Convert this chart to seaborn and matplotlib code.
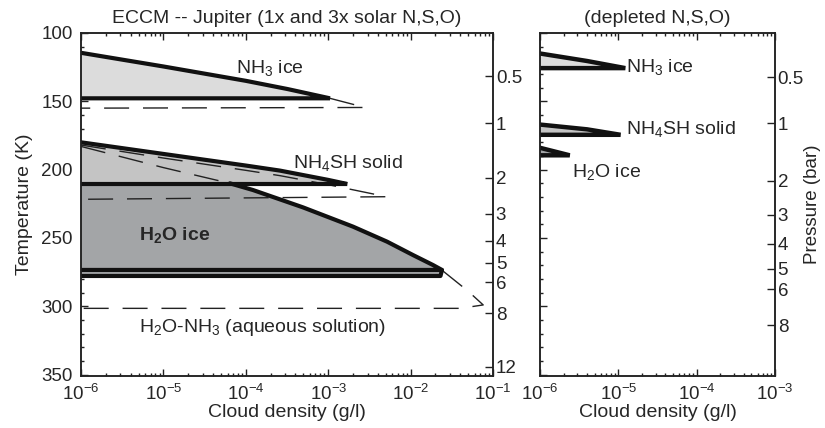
import matplotlib
matplotlib.use("Agg")
import matplotlib.pyplot as plt
from matplotlib.ticker import MultipleLocator, LogLocator, NullLocator, NullFormatter
import seaborn as sns

# ---- values (cloud density in g/l, temperature in K) ----
# ECCM 1x solar (solid outlines, filled)
nh3_rho = [1e-6, 1e-5, 1e-4, 3.2e-4, 1.05e-3]
nh3_T = [114.5, 124.5, 135, 141, 147.8]
nh3_base = 147.8

nh4sh_rho = [1e-6, 1e-5, 1e-4, 2.6e-4, 1e-3, 1.7e-3]
nh4sh_T = [180, 188.5, 197, 200.7, 207.5, 210.5]
nh4sh_base = 210.5

h2o_rho = [1e-6, 1e-5, 6.4e-5, 1.22e-4, 4.94e-4, 2.0e-3, 5.18e-3, 1.07e-2, 1.87e-2, 2.4e-2]
h2o_T = [183, 198.5, 210, 214.9, 227.6, 241.7, 252.7, 262.5, 269.8, 273.4]
h2o_base = [273.4, 277.8]

# ECCM 3x solar (dashed outlines)
nh3_3x_rho = [1.05e-3, 2.8e-3, 1e-6]
nh3_3x_T = [147.8, 154.5, 155]
nh4sh_3x_rho = [1e-6, 1e-5, 1e-4, 2.6e-4, 1e-3, 5.1e-3, 1e-6]
nh4sh_3x_T = [182, 191.5, 200.5, 204.4, 211, 219.8, 221.7]
h2o_3x_rho = [2.45e-2, 5.0e-2, 7.6e-2, 4e-2, 1e-6]
h2o_3x_T = [274, 289, 299, 301.5, 301.5]

# depleted N,S,O
dep_nh3_rho = [1e-6, 4e-6, 1.23e-5]
dep_nh3_T = [115, 120.5, 125.7]
dep_nh4sh_rho = [1e-6, 4e-6, 1.07e-5]
dep_nh4sh_T = [167, 170.5, 174.5]
dep_h2o_rho = [1e-6, 2.4e-6]
dep_h2o_T = [184, 189.5]

# pressure (bar) marked along the temperature axis
p_labels = ["0.5", "1", "2", "3", "4", "5", "6", "8", "12"]
p_T_left = [131.6, 166.2, 205.9, 232.4, 252.2, 268.3, 282.3, 305.1, 344.1]
p_T_right = [132.4, 166.2, 208, 233, 254.4, 272.7, 287.5, 313.9]

sns.set_theme(style="ticks")
plt.rcParams['font.family'] = ['Liberation Sans', 'DejaVu Sans']
plt.rcParams['mathtext.fontset'] = 'custom'
plt.rcParams['mathtext.rm'] = 'Liberation Sans'
plt.rcParams['mathtext.it'] = 'Liberation Sans:italic'
plt.rcParams['mathtext.bf'] = 'Liberation Sans:bold'
plt.rcParams['axes.linewidth'] = 1.1
plt.rcParams['axes.edgecolor'] = '#222222'

FS = 14
TS = 13.5
c_nh3 = '#dcdcdc'
c_nh4sh = '#c4c4c4'
c_h2o = '#a3a5a7'
dash = (0, (18, 10))

fig = plt.figure(figsize=(8.25, 4.28), dpi=100)
axL = fig.add_axes([0.0982, 0.1215, 0.4994, 0.8014])
axR = fig.add_axes([0.6545, 0.1215, 0.2848, 0.8014])


def profile(ax, rho, T, base, color, lw=3):
    xs = list(rho) + [rho[-1], 1e-7]
    ys = list(T) + [base, base]
    ax.fill(xs, ys, color=color, lw=0, zorder=1)
    sns.lineplot(x=xs, y=ys, sort=False, estimator=None, color='#111111',
                 lw=lw, ax=ax, zorder=4, solid_joinstyle='miter')


for ax in (axL, axR):
    ax.set_xscale('log')

# left panel: 1x solar
profile(axL, nh3_rho, nh3_T, nh3_base, c_nh3)
profile(axL, nh4sh_rho, nh4sh_T, nh4sh_base, c_nh4sh)

# water ice region below NH4SH base
wx = [1e-7] + h2o_rho[2:] + [h2o_rho[-1] * 0.96, 1e-7]
wy = [nh4sh_base] + h2o_T[2:] + [h2o_base[1], h2o_base[1]]
axL.fill(wx, wy, color=c_h2o, lw=0, zorder=0.9)
sns.lineplot(x=h2o_rho[2:] + [1e-7], y=h2o_T[2:] + [h2o_base[0]], sort=False,
             estimator=None, color='#111111', lw=3, ax=axL, zorder=4)
sns.lineplot(x=[h2o_rho[-1], h2o_rho[-1] * 0.96, 1e-7],
             y=[h2o_T[-1], h2o_base[1], h2o_base[1]], sort=False,
             estimator=None, color='#111111', lw=3, ax=axL, zorder=4)
axL.plot(h2o_rho[:3], h2o_T[:3], color='#222222', lw=1.0, ls=dash, zorder=3)

# 3x solar dashed
for xs, ys in [(nh3_3x_rho, nh3_3x_T), (nh4sh_3x_rho, nh4sh_3x_T),
               (h2o_3x_rho, h2o_3x_T)]:
    axL.plot(xs, ys, color='#222222', lw=1.0, ls=dash, zorder=3)

# right panel: depleted
for rho, T, col in [(dep_nh3_rho, dep_nh3_T, c_nh3),
                    (dep_nh4sh_rho, dep_nh4sh_T, c_nh4sh),
                    (dep_h2o_rho, dep_h2o_T, c_h2o)]:
    profile(axR, rho, T, T[-1], col, lw=3.2)

# labels inside panels
axL.text(10**-4.12, 125.7, r'NH$_3$ ice', fontsize=FS, va='center')
axL.text(10**-3.43, 195, r'NH$_4$SH solid', fontsize=FS, va='center')
axL.text(10**-5.3, 248, r'$\mathbf{H_2O\ ice}$', fontsize=FS, va='center')
axL.text(10**-5.3, 315.5, r'H$_2$O-NH$_3$ (aqueous solution)', fontsize=FS, va='center')
axR.text(10**-4.9, 125, r'NH$_3$ ice', fontsize=FS, va='center')
axR.text(10**-4.9, 170, r'NH$_4$SH solid', fontsize=FS, va='center')
axR.text(10**-5.59, 202, r'H$_2$O ice', fontsize=FS, va='center')

axL.set_xlim(1e-6, 1e-1)
axR.set_xlim(1e-6, 1e-3)
for ax in (axL, axR):
    ax.set_ylim(351, 100)
    ax.yaxis.set_major_locator(MultipleLocator(50))
    ax.yaxis.set_minor_locator(MultipleLocator(10))
    ax.xaxis.set_major_locator(LogLocator(base=10, numticks=10))
    ax.xaxis.set_minor_locator(LogLocator(base=10, subs=range(2, 10), numticks=10))
    ax.xaxis.set_minor_formatter(NullFormatter())
    ax.tick_params(which='both', direction='in', top=True, right=False,
                   labelsize=TS, color='#222222', width=1.0)
    ax.tick_params(which='major', length=5)
    ax.tick_params(which='minor', length=2.5)
    ax.tick_params(axis='x', pad=6)
    ax.tick_params(axis='y', pad=6)
    ax.set_xlabel('Cloud density (g/l)', fontsize=FS, labelpad=0)

axR.tick_params(labelleft=False)
axL.set_ylabel('Temperature (K)', fontsize=FS, labelpad=6)
axL.set_title('ECCM -- Jupiter (1x and 3x solar N,S,O)', fontsize=FS, pad=7)
axR.set_title('(depleted N,S,O)', fontsize=FS, pad=7)

# pressure axes on the right of each panel
for ax, pT, labs in [(axL, p_T_left, p_labels), (axR, p_T_right, p_labels[:-1])]:
    tw = ax.twinx()
    tw.set_ylim(ax.get_ylim())
    tw.set_yticks(pT)
    tw.set_yticklabels(labs)
    tw.yaxis.set_minor_locator(NullLocator())
    tw.tick_params(axis='y', direction='in', length=6, labelsize=TS,
                   color='#222222', width=1.0, pad=2)
    tw.grid(False)
    if ax is axR:
        tw.set_ylabel('Pressure (bar)', fontsize=13.5, labelpad=0)

fig.savefig('out.png', dpi=100)
